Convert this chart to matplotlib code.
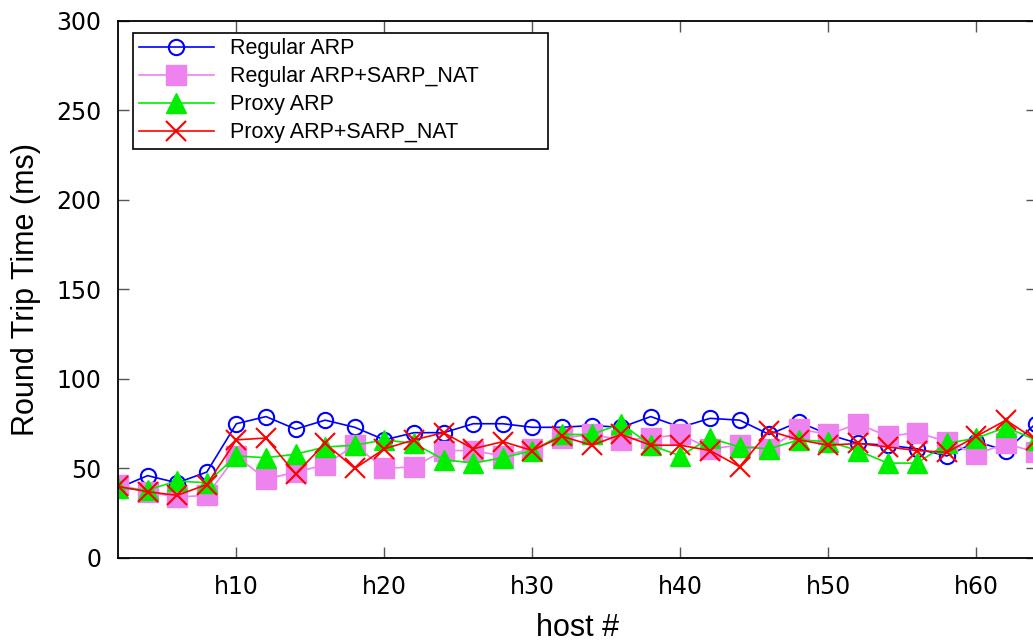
import numpy as np
import matplotlib
matplotlib.use("Agg")
import matplotlib.pyplot as plt

# host index of each measurement (every second host)
hosts = [2, 4, 6, 8, 10, 12, 14, 16, 18, 20, 22, 24, 26, 28, 30, 32,
         34, 36, 38, 40, 42, 44, 46, 48, 50, 52, 54, 56, 58, 60, 62, 64]

# round trip time [ms]
regular_arp = [39, 46, 42, 48, 75, 79, 72, 77, 73, 66, 70, 70, 75, 75, 73, 73,
               74, 73, 79, 73, 78, 77, 69, 76, 69, 64, 63, 61, 57, 65, 60, 75]
regular_sarp = [41, 37, 34, 35, 57, 44, 48, 52, 63, 50, 51, 60, 60, 57, 61, 67,
                69, 66, 67, 69, 61, 63, 61, 72, 69, 75, 68, 70, 65, 58, 64, 59]
proxy_arp = [39, 38, 43, 42, 57, 56, 58, 62, 63, 66, 64, 55, 53, 56, 60, 69,
             69, 75, 63, 57, 67, 62, 61, 66, 65, 60, 53, 53, 64, 67, 73, 66]
proxy_sarp = [40, 37, 35, 41, 66, 67, 47, 64, 50, 61, 66, 70, 61, 65, 60, 68,
              63, 69, 63, 63, 60, 51, 71, 66, 63, 64, 62, 60, 59, 68, 77, 66]

xtick_pos = [10, 20, 30, 40, 50, 60]
xtick_labels = ["h10", "h20", "h30", "h40", "h50", "h60"]

fig = plt.figure(figsize=(10.33, 6.41), dpi=100)
ax = fig.add_axes((0.1142, 0.1295, 0.8898, 0.8378))

lw = 1.2
ax.plot(hosts, regular_arp, color="#0000ff", lw=lw, marker="o", ms=11,
        mfc="none", mec="#0000ff", mew=1.5, label="Regular ARP")
ax.plot(hosts, regular_sarp, color="#ee82ee", lw=lw, marker="s", ms=14,
        mfc="#ee82ee", mec="#ee82ee", label="Regular ARP+SARP_NAT")
ax.plot(hosts, proxy_arp, color="#00ee00", lw=lw, marker="^", ms=14,
        mfc="#00ee00", mec="#00ee00", label="Proxy ARP")
ax.plot(hosts, proxy_sarp, color="#ff0000", lw=lw, marker="x", ms=15,
        mew=1.5, label="Proxy ARP+SARP_NAT")

ax.set_xlim(2, 64.1)
ax.set_ylim(0, 300)
ax.set_xticks(xtick_pos)
ax.set_xticklabels(xtick_labels)
ax.set_yticks(np.arange(0, 301, 50))
ax.tick_params(direction="in", length=8, width=1.0, color="#555555",
               top=True, right=True, labelsize=17, pad=12)
for sp in ax.spines.values():
    sp.set_linewidth(1.3)

ax.set_xlabel("host #", fontsize=22, family="Liberation Sans", labelpad=10)
ax.set_ylabel("Round Trip Time (ms)", fontsize=22, family="Liberation Sans",
              labelpad=11)

# legend box stretched to a fixed width (gnuplot style key)
leg = ax.legend(loc="upper left", bbox_to_anchor=(0.0165, 0.978, 0.451, 0.0),
                mode="expand",
                prop={"family": "Liberation Sans", "size": 15.5},
                fancybox=False, framealpha=1, edgecolor="black",
                handlelength=3.5, borderpad=0.25, labelspacing=0.33,
                handletextpad=0.75, borderaxespad=0)
leg.get_frame().set_linewidth(1.2)

fig.savefig("out.png", dpi=100)
